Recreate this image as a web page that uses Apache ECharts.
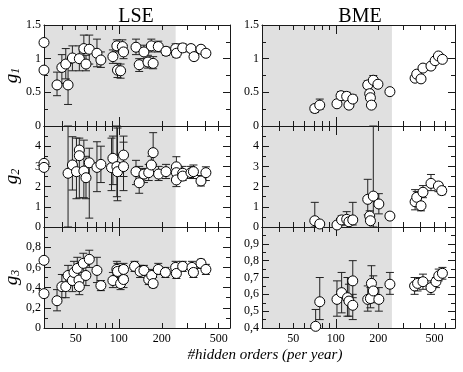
<!DOCTYPE html>
<html><head><meta charset="utf-8">
<script src="https://cdn.jsdelivr.net/npm/echarts@6/dist/echarts.min.js"></script>
<style>html,body{margin:0;padding:0;background:#fff}#c{width:463px;height:372px}</style>
</head><body><div id="c"></div>
<script>
// ---- axis ticks / labels ----
const xMinorTicks = [40, 50, 60, 70, 80, 90, 200, 300, 400, 500, 600, 700];
const xMajorTicks = [100];
const xTickLabels = [50, 100, 200, 500];
const shadeFrom = 30, shadeTo = 250;
const columnTitles = ['LSE', 'BME'];
const xTitle = '#hidden orders (per year)';

// ---- LSE ----
const lseG1X  = [30,30,37,40,42.6,44.2,47.4,53,57,59, 62.2,70.4,75,91,97,98,103,106,108,132, 139,150,160,169,174,189,214,250,253,280, 320,336,376,407];
const lseG1   = [1.24,0.83,0.61,0.87,0.92,0.61,1.01,1.00,1.15,0.92, 1.14,1.08,0.98,1.03,1.19,0.83,0.82,1.18,1.10,1.17, 0.91,1.10,0.95,1.19,0.93,1.18,1.11,1.15,1.08,1.16, 1.15,1.03,1.14,1.08];
const lseG1Lo = [null,null,0.45,0.63,0.70,0.32,0.82,0.82,0.95,0.82, 0.92,0.88,0.87,0.93,1.10,0.72,0.71,1.08,1.00,1.06, 0.81,1.00,0.86,1.10,0.85,1.10,1.05,1.08,1.02,1.10, 1.10,0.98,1.09,1.03];
const lseG1Hi = [null,null,0.80,1.06,1.15,0.93,1.19,1.19,1.35,1.05, 1.35,1.29,1.10,1.13,1.28,0.93,0.92,1.28,1.20,1.29, 1.00,1.20,1.05,1.29,1.03,1.26,1.17,1.22,1.14,1.22, 1.20,1.08,1.19,1.13];

const lseG2X  = [30,30,44.2,47.4,50.6,53,53,57,59,62.2, 70.4,75,89,91,97,98,108,108,132,139, 150,162,169,174,190,214,253,253,253,280, 280,320,333,376,407];
const lseG2   = [3.15,2.95,2.66,3.07,2.74,3.81,3.53,2.77,2.44,3.18, 2.95,3.10,2.94,3.40,2.99,2.74,3.56,2.99,2.74,2.19, 2.62,2.69,3.07,3.68,2.62,2.74,2.98,2.69,2.33,2.66, 2.52,2.69,2.74,2.28,2.69];
const lseG2Lo = [null,null,0,1.83,1.40,1.44,null,1.45,1.40,0.44, 1.75,2.20,1.80,2.10,1.50,1.30,2.50,1.80,2.10,1.67, 2.20,2.30,2.60,3.10,2.30,2.40,2.50,null,2.00,2.30, null,2.40,2.40,2.03,2.30];
const lseG2Hi = [null,null,5.0,4.47,4.40,4.40,null,4.30,3.50,3.90, 4.22,4.00,4.40,4.50,5.00,4.90,4.50,4.20,3.30,3.00, 2.90,3.10,3.50,4.67,3.00,3.10,3.48,null,2.70,3.00, null,3.00,3.07,2.55,2.98];

const lseG3X  = [30,30,37,40,42.6,44.2,47.4,48.6,51.3,52.7, 53,56.5,58.9,62.2,70.4,75,91,97,98,103, 108,108,129,141,150,162,170,174,189,212, 250,253,280,325,333,376,407];
const lseG3   = [0.67,0.34,0.27,0.41,0.41,0.52,0.47,0.55,0.59,0.475, 0.41,0.64,0.52,0.68,0.57,0.42,0.47,0.58,0.56,0.44, 0.58,0.48,0.61,0.56,0.57,0.48,0.52,0.44,0.58,0.55, 0.60,0.54,0.61,0.60,0.55,0.64,0.58];
const lseG3Lo = [null,null,0.17,0.30,0.30,0.42,0.36,0.45,0.49,0.40, 0.33,0.55,0.42,0.60,0.45,0.37,0.40,0.52,0.48,0.38, 0.52,0.40,0.56,0.50,0.52,0.43,0.47,0.40,0.53,0.50, 0.55,0.49,0.56,0.55,0.50,0.59,0.53];
const lseG3Hi = [null,null,0.38,0.53,0.52,0.62,0.57,0.66,0.70,0.55, 0.50,0.74,0.62,0.77,0.70,0.47,0.55,0.66,0.64,0.50, 0.64,0.55,0.66,0.62,0.62,0.53,0.58,0.50,0.64,0.60, 0.66,0.60,0.66,0.66,0.60,0.68,0.63];

// ---- BME ----
const bmeG1X  = [71,77,102,109,119.5,124,132,168.5,174,176, 179,184.5,199,242,365,375,402,415,473,506, 534,570];
const bmeG1   = [0.26,0.31,0.33,0.45,0.44,0.31,0.40,0.61,0.48,0.42, 0.31,0.68,0.62,0.51,0.71,0.77,0.70,0.86,0.89,0.97, 1.04,0.99];
const bmeG1Lo = [0.20,0.25,0.29,0.40,0.38,0.27,0.35,0.56,0.44,0.38, 0.27,0.61,0.58,0.48,0.67,0.73,0.66,0.83,0.86,0.94, 1.01,0.96];
const bmeG1Hi = [0.31,0.40,0.37,0.51,0.50,0.35,0.46,0.67,0.52,0.46, 0.35,0.75,0.66,0.54,0.75,0.81,0.74,0.89,0.92,1.00, 1.07,1.02];

const bmeG2X  = [71,77,102,110,119.5,124,132,168.5,174,176, 184.5,202,242,365,375,402,415,473,534,564];
const bmeG2   = [0.31,0.15,0.10,0.35,0.38,0.26,0.35,1.37,0.54,0.31, 1.53,1.14,0.54,1.25,1.47,1.05,1.72,2.16,2.03,1.80];
const bmeG2Lo = [0,null,null,0.10,0.10,null,0.10,0.60,0.30,null, 0,0.65,0.40,0.85,1.10,0.80,1.45,1.80,1.75,1.60];
const bmeG2Hi = [1.22,null,null,0.55,0.76,null,1.22,2.36,0.80,null, 5.0,1.65,0.70,1.85,1.75,1.50,2.05,2.60,2.20,2.00];

const bmeG3X  = [72,77,102,110,121,124,132,132,168.5,176, 179,184.5,202,242,362,380,415,473,513,537, 570];
const bmeG3   = [0.41,0.556,0.57,0.61,0.58,0.56,0.68,0.535,0.57,0.575, 0.665,0.62,0.57,0.66,0.65,0.665,0.675,0.64,0.675,0.71, 0.725];
const bmeG3Lo = [0.40,0.45,0.47,0.49,0.47,0.47,0.58,0.45,0.50,0.52, 0.60,0.55,0.50,0.60,0.60,0.62,0.63,0.60,0.64,0.68, 0.69];
const bmeG3Hi = [0.51,0.70,0.68,0.73,0.70,0.66,0.80,0.60,0.65,0.64, 0.77,0.71,0.64,0.73,0.70,0.70,0.72,0.68,0.70,0.75, 0.76];

// ---- layout ----
const FONT = 'Liberation Serif';
const colLeft = [44, 262], colWidth = [186, 193];
const xMaxCol = [600, 700];
const rowTop = 25, rowH = 101;
const L = Math.log10;

const fmtDot = v => String(+v.toFixed(2));
const fmtComma = v => v === 0 ? '0' : (+v).toFixed(1).replace('.', ',');

const panels = [
  {c:0,r:0,x:lseG1X,y:lseG1,lo:lseG1Lo,hi:lseG1Hi,min:0,max:1.5,iv:0.5,fmt:fmtDot,sub:'1'},
  {c:0,r:1,x:lseG2X,y:lseG2,lo:lseG2Lo,hi:lseG2Hi,min:0,max:5,iv:1,fmt:fmtDot,sub:'2'},
  {c:0,r:2,x:lseG3X,y:lseG3,lo:lseG3Lo,hi:lseG3Hi,min:0,max:1,iv:0.2,fmt:fmtComma,sub:'3'},
  {c:1,r:0,x:bmeG1X,y:bmeG1,lo:bmeG1Lo,hi:bmeG1Hi,min:0,max:1.5,iv:0.5,fmt:fmtDot},
  {c:1,r:1,x:bmeG2X,y:bmeG2,lo:bmeG2Lo,hi:bmeG2Hi,min:0,max:5,iv:1,fmt:fmtDot},
  {c:1,r:2,x:bmeG3X,y:bmeG3,lo:bmeG3Lo,hi:bmeG3Hi,min:0.4,max:1,iv:0.1,fmt:fmtComma}
];

const LC = '#1a1a1a';
const grid = [], xAxis = [], yAxis = [], series = [];

panels.forEach((p, i) => {
  grid.push({left: colLeft[p.c], top: rowTop + rowH * p.r, width: colWidth[p.c], height: rowH, containLabel: false});
  const xmin = L(30), xmax = L(xMaxCol[p.c]);
  const bottomRow = p.r === 2;
  const mkX = (pos, ticks, len, line, labels) => ({
    type: 'value', gridIndex: i, position: pos, min: xmin, max: xmax, z: 3,
    axisLine: {show: line, onZero: false, lineStyle: {color: LC, width: 1}},
    axisTick: {show: true, inside: true, length: len, customValues: ticks.map(L), lineStyle: {color: LC, width: 1}},
    axisLabel: labels ? {show: true, customValues: xTickLabels.map(L), formatter: v => String(Math.round(Math.pow(10, v))),
      fontFamily: FONT, fontSize: 12, color: '#000', margin: 5} : {show: false},
    splitLine: {show: false}
  });
  const base = xAxis.length;
  xAxis.push(mkX('bottom', xMinorTicks, 5, true, bottomRow));
  xAxis.push(mkX('bottom', xMajorTicks, 9, false, false));
  xAxis.push(mkX('top', xMinorTicks, 5, true, false));
  xAxis.push(mkX('top', xMajorTicks, 9, false, false));

  const mkY = (pos, labels) => ({
    type: 'value', gridIndex: i, position: pos, min: p.min, max: p.max, interval: p.iv, z: 3,
    axisLine: {show: true, onZero: false, lineStyle: {color: LC, width: 1}},
    axisTick: {show: true, inside: true, length: 7, lineStyle: {color: LC, width: 1}},
    minorTick: {show: true, splitNumber: 2, length: 4, lineStyle: {color: LC, width: 1}},
    axisLabel: labels ? {show: true, formatter: p.fmt, fontFamily: FONT, fontSize: 12, color: '#000', margin: 3,
      showMaxLabel: p.r === 0, showMinLabel: true} : {show: false},
    splitLine: {show: false},
    name: (labels && p.sub) ? '{g|g}{s|' + p.sub + '}' : '',
    nameLocation: 'middle', nameRotate: 90, nameGap: 22,
    nameTextStyle: {rich: {
      g: {fontFamily: FONT, fontStyle: 'italic', fontSize: 19, color: '#000', verticalAlign: 'top', lineHeight: 20},
      s: {fontFamily: FONT, fontStyle: 'italic', fontSize: 12, color: '#000', verticalAlign: 'bottom', lineHeight: 20}
    }}
  });
  const yb = yAxis.length;
  yAxis.push(mkY('left', true));
  yAxis.push(mkY('right', false));

  // shaded region
  series.push({
    type: 'custom', xAxisIndex: base, yAxisIndex: yb, z: 1, silent: true,
    data: [[L(shadeFrom), p.min, L(shadeTo), p.max]],
    encode: {x: [0, 2], y: [1, 3]},
    renderItem: (params, api) => {
      const a = api.coord([api.value(0), api.value(1)]);
      const b = api.coord([api.value(2), api.value(3)]);
      return {type: 'rect', shape: {x: a[0], y: b[1], width: b[0] - a[0], height: a[1] - b[1]},
        style: {fill: '#e0e0e0'}};
    }
  });
  // error bars
  const eb = [];
  p.x.forEach((xv, k) => { if (p.lo[k] != null) eb.push([L(xv), p.lo[k], p.hi[k]]); });
  series.push({
    type: 'custom', xAxisIndex: base, yAxisIndex: yb, z: 4, silent: true,
    data: eb, encode: {x: 0, y: [1, 2]},
    renderItem: (params, api) => {
      const x = api.value(0);
      const p1 = api.coord([x, api.value(1)]), p2 = api.coord([x, api.value(2)]);
      const w = 4, st = {stroke: '#222', lineWidth: 1};
      return {type: 'group', children: [
        {type: 'line', shape: {x1: p1[0], y1: p1[1], x2: p2[0], y2: p2[1]}, style: st},
        {type: 'line', shape: {x1: p1[0] - w, y1: p1[1], x2: p1[0] + w, y2: p1[1]}, style: st},
        {type: 'line', shape: {x1: p2[0] - w, y1: p2[1], x2: p2[0] + w, y2: p2[1]}, style: st}
      ]};
    }
  });
  // points
  series.push({
    type: 'scatter', xAxisIndex: base, yAxisIndex: yb, z: 5, clip: false, silent: true,
    symbol: 'circle', symbolSize: 10,
    itemStyle: {color: '#fff', borderColor: '#000', borderWidth: 1, opacity: 1},
    data: p.x.map((xv, k) => [L(xv), p.y[k]])
  });
});

const chart = echarts.init(document.getElementById('c'), null, {renderer: 'canvas'});
chart.setOption({
  animation: false,
  backgroundColor: '#fff',
  grid, xAxis, yAxis, series,
  graphic: [
    {type: 'text', x: 136, y: 17, style: {text: columnTitles[0], font: '20px "Liberation Serif"', fill: '#000', textAlign: 'center', textVerticalAlign: 'middle'}},
    {type: 'text', x: 360, y: 17, style: {text: columnTitles[1], font: '20px "Liberation Serif"', fill: '#000', textAlign: 'center', textVerticalAlign: 'middle'}},
    {type: 'text', x: 265, y: 355, style: {text: xTitle, font: 'italic 15px "Liberation Serif"', fill: '#000', textAlign: 'center', textVerticalAlign: 'middle'}}
  ]
});
</script></body></html>
